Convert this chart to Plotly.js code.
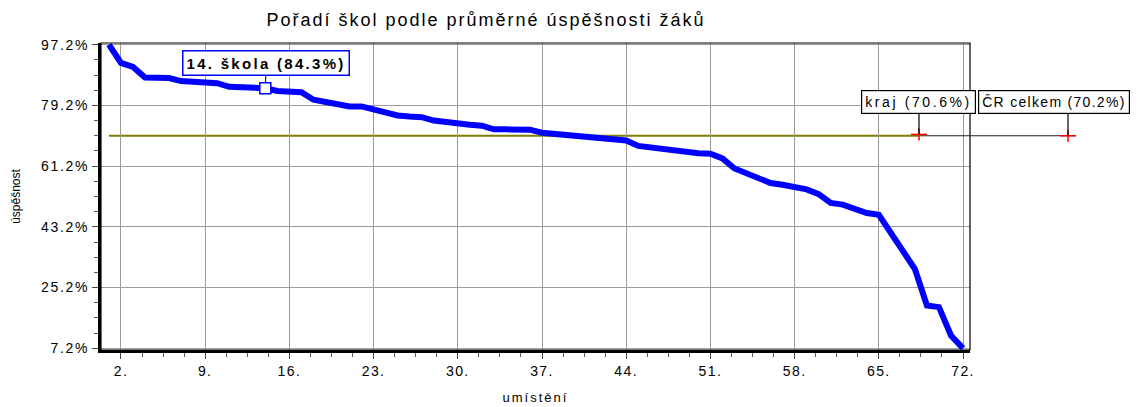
<!DOCTYPE html>
<html>
<head>
<meta charset="utf-8">
<script src="https://cdn.plot.ly/plotly-3.0.1.min.js"></script>
<style>
  body { margin: 0; background: #fff; }
  .gtitle { letter-spacing: 2px; }
  .xtick text { letter-spacing: 1.4px; }
  .ytick text { letter-spacing: 1.7px; }
  .xtitle { letter-spacing: 2px; }
</style>
</head>
<body>
<div id="chart" style="width:1147px;height:407px;"></div>
<script>
// ---- data ----
const ranks = [1, 2, 3, 4, 5, 6, 7, 8, 9, 10, 11, 12, 13, 14, 15, 16, 17, 18, 19, 20,
  21, 22, 23, 24, 25, 26, 27, 28, 29, 30, 31, 32, 33, 34, 35, 36, 37, 38, 39, 40,
  41, 42, 43, 44, 45, 46, 47, 48, 49, 50, 51, 52, 53, 54, 55, 56, 57, 58, 59, 60,
  61, 62, 63, 64, 65, 66, 67, 68, 69, 70, 71, 72];
const successRates = [97.2, 91.8, 90.6, 87.5, 87.4, 87.3, 86.4, 86.2, 86.1, 85.8,
  84.7, 84.5, 84.4, 84.3, 83.5, 83.3, 83.1, 80.9, 80.1, 79.4,
  78.9, 78.9, 77.9, 77.1, 76.2, 75.9, 75.7, 74.7, 74.2, 73.8,
  73.5, 73.2, 72.1, 72.1, 72.1, 72.0, 71.1, 70.8, 70.5, 70.1,
  69.6, 69.3, 69.2, 68.8, 67.2, 66.7, 66.3, 65.8, 65.4, 65.0,
  64.9, 63.5, 60.5, 59.1, 57.6, 56.2, 55.7, 55.2, 54.3, 52.9,
  50.3, 49.8, 48.7, 47.3, 46.8, 41.2, 35.9, 30.7, 19.9, 19.4,
  11.0, 7.2];
const highlightRank = 14;
const highlightValue = 84.3;
const highlightLabel = "14. škola";
const krajLabel = "kraj";
const krajValue = 70.6;
const crLabel = "ČR celkem";
const crValue = 70.2;
const yTickStart = 7.2;
const yTickStep = 18;
const xTickStart = 2;
const xTickStep = 7;

// ---- layout helpers (positions, not data) ----
const krajPos = 0.9413;   // paper x of the kraj marker
const crPos = 1.1128;     // paper x of the ČR marker
const crBoxPos = 1.0961;  // paper x of ČR label box centre
const lineEnd = 1.1208;   // paper x where the reference line ends

const font = "Liberation Sans, Arial, sans-serif";

const traces = [
  {
    x: ranks, y: successRates, type: "scatter", mode: "lines",
    line: { color: "#0000ff", width: 6, shape: "linear" },
    hoverinfo: "skip", showlegend: false
  },
  {
    x: [highlightRank], y: [highlightValue], type: "scatter", mode: "markers",
    marker: { symbol: "square", size: 11, color: "#ffffff", line: { color: "#0000ff", width: 1.5 } },
    hoverinfo: "skip", showlegend: false, cliponaxis: false
  }
];

const fmt = v => v.toFixed(1) + "%";

const layout = {
  width: 1147, height: 407,
  margin: { l: 101, r: 177, t: 43, b: 57, pad: 0 },
  paper_bgcolor: "#ffffff", plot_bgcolor: "#ffffff",
  font: { family: font, size: 14, color: "#000" },
  showlegend: false,
  title: {
    text: "Pořadí škol podle průměrné úspěšnosti žáků",
    font: { family: font, size: 18, color: "#000" },
    xref: "container", x: 0.4237, xanchor: "center",
    yref: "container", y: 0.951, yanchor: "middle"
  },
  xaxis: {
    range: [0.34, 72.58],
    tick0: xTickStart, dtick: xTickStep, ticksuffix: ".",
    ticks: "outside", ticklen: 6, tickcolor: "#444", tickwidth: 1,
    tickfont: { family: font, size: 14, color: "#000" },
    showgrid: true, gridcolor: "#9a9a9a", gridwidth: 1,
    zeroline: false,
    showline: true, linecolor: "#000", linewidth: 3,
    minor: { tick0: xTickStart, dtick: 1.75, ticks: "outside", ticklen: 4, tickcolor: "#555", showgrid: false },
    title: { text: "umístění", font: { family: font, size: 13, color: "#000" }, standoff: 16 },
    fixedrange: true
  },
  yaxis: {
    range: [6.7, 97.7],
    tick0: yTickStart, dtick: yTickStep, tickformat: ".1f", ticksuffix: "%",
    ticks: "outside", ticklen: 6, tickcolor: "#444", tickwidth: 1,
    tickfont: { family: font, size: 14, color: "#000" },
    showgrid: true, gridcolor: "#9a9a9a", gridwidth: 1,
    zeroline: false,
    showline: true, linecolor: "#000", linewidth: 3,
    minor: { tick0: yTickStart, dtick: 4.5, ticks: "outside", ticklen: 4, tickcolor: "#555", showgrid: false },
    title: { text: "úspěšnost", font: { family: font, size: 12, color: "#000" }, standoff: 18 },
    fixedrange: true
  },
  shapes: [
    // frame
    { type: "rect", xref: "paper", yref: "paper", x0: 0, x1: 1, y0: 0, y1: 1,
      line: { color: "#000", width: 1.2 }, layer: "above" },
    // olive reference line inside the plot
    { type: "line", xref: "x", yref: "y", x0: ranks[0], x1: 68.3, y0: crValue, y1: crValue,
      line: { color: "#7f7f00", width: 2 }, layer: "below" },
    // black continuation to the ČR marker
    { type: "line", xref: "paper", yref: "y", x0: krajPos, x1: lineEnd, y0: crValue, y1: crValue,
      line: { color: "#222", width: 1.2 } },
    // kraj cross
    { type: "line", xref: "paper", yref: "y", xsizemode: "pixel", xanchor: krajPos, x0: -8, x1: 8,
      y0: krajValue, y1: krajValue, line: { color: "#ff0000", width: 1.5 } },
    { type: "line", xref: "paper", yref: "y", ysizemode: "pixel", yanchor: krajValue, y0: -6, y1: 6,
      x0: krajPos, x1: krajPos, line: { color: "#ff0000", width: 1.5 } },
    // ČR cross
    { type: "line", xref: "paper", yref: "y", xsizemode: "pixel", xanchor: crPos, x0: -8, x1: 8,
      y0: crValue, y1: crValue, line: { color: "#ff0000", width: 1.5 } },
    { type: "line", xref: "paper", yref: "y", ysizemode: "pixel", yanchor: crValue, y0: -6, y1: 6,
      x0: crPos, x1: crPos, line: { color: "#ff0000", width: 1.5 } },
    // ČR leader line
    { type: "line", xref: "paper", yref: "y", ysizemode: "pixel", yanchor: crValue, y0: 0, y1: 22,
      x0: crPos, x1: crPos, line: { color: "#000", width: 1.2 } }
  ],
  annotations: [
    {
      xref: "x", yref: "y", x: highlightRank, y: highlightValue,
      text: '<span style="letter-spacing:2.3px"><b>' + highlightLabel + " (" + fmt(highlightValue) + ")</b></span>",
      showarrow: true, arrowhead: 0, arrowwidth: 1, arrowcolor: "#000",
      ax: 1, ay: -25, standoff: 6,
      bgcolor: "#fff", bordercolor: "#0000ff", borderwidth: 1.5, borderpad: 3,
      font: { family: font, size: 15, color: "#000" }
    },
    {
      xref: "paper", yref: "y", x: krajPos, y: krajValue,
      text: '<span style="letter-spacing:2.6px">' + krajLabel + " (" + fmt(krajValue) + ")</span>",
      showarrow: true, arrowhead: 0, arrowwidth: 1.2, arrowcolor: "#000",
      ax: 0, ay: -32, standoff: 0,
      bgcolor: "#fff", bordercolor: "#000", borderwidth: 1.2, borderpad: 3,
      font: { family: font, size: 14, color: "#000" }
    },
    {
      xref: "paper", yref: "y", x: crBoxPos, y: crValue,
      text: '<span style="letter-spacing:1.3px">' + crLabel + " (" + fmt(crValue) + ")</span>",
      showarrow: false, xanchor: "center", yanchor: "bottom", yshift: 22,
      bgcolor: "#fff", bordercolor: "#000", borderwidth: 1.2, borderpad: 3,
      font: { family: font, size: 14, color: "#000" }
    }
  ]
};

Plotly.newPlot("chart", traces, layout, { staticPlot: true, displayModeBar: false });
</script>
</body>
</html>
